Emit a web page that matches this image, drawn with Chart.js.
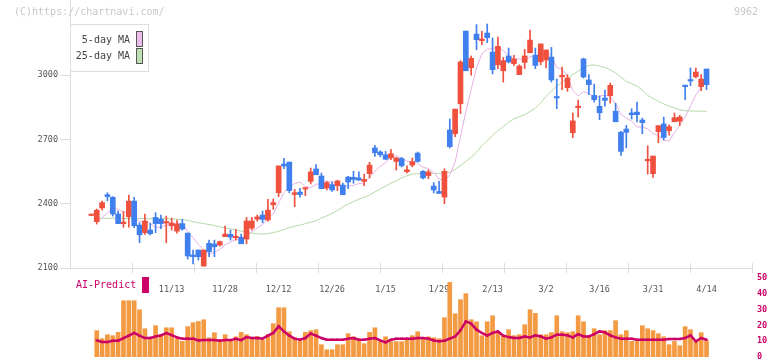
<!DOCTYPE html>
<html>
<head>
<meta charset="utf-8">
<script src="https://cdn.jsdelivr.net/npm/chart.js@4.4.0/dist/chart.umd.min.js"></script>
<style>
  body { margin: 0; background: #fff; }
  #wrap { position: relative; width: 772px; height: 361px; }
  #wrap canvas { position: absolute; left: 0; top: 0; }
</style>
</head>
<body>
<div id="wrap">
  <canvas id="priceChart" width="772" height="361"></canvas>
  <canvas id="volChart" width="772" height="361"></canvas>
</div>
<script>
// daily prices, index 0 = oldest day shown
let openP = [2345,2316,2380,2442,2430,2352,2307,2339,2412,2300, 2265,2277,2336,2328,2310,2297,2272,2307,2263,2161,
  2184,2109,2215,2212,2207,2246,2257,2241,2243,2235, 2286,2328,2347,2324,2395,2451,2585,2594,2443,2454,
  2468,2504,2562,2529,2473,2489,2484,2487,2524,2523, 2520,2504,2540,2660,2641,2628,2614,2597,2610,2549,
  2580,2636,2551,2531,2482,2457,2431,2744,2726,2866, 3205,3034,3191,3160,3196,3107,3048,3020,3089,3053,
  3002,3059,3104,3093,3062,3070,3084,2897,2992,2941, 2731,2848,3075,2977,2905,2854,2893,2904,2831,2733,
  2748,2823,2827,2790,2600,2540,2736,2772,2740,2782, 2785,2952,2977,2992,2946,3028];
let highP = [2347,2375,2412,2451,2433,2366,2363,2440,2430,2311, 2352,2308,2358,2347,2342,2333,2324,2327,2263,2184,
  2184,2184,2230,2230,2226,2296,2277,2280,2258,2336, 2336,2347,2366,2420,2422,2576,2611,2594,2467,2472,
  2476,2566,2582,2543,2504,2501,2509,2496,2527,2551, 2548,2538,2593,2672,2647,2644,2653,2616,2616,2577,
  2613,2641,2554,2558,2498,2504,2563,2795,2841,3067, 3205,3089,3235,3204,3238,3173,3177,3082,3126,3092,
  3048,3120,3210,3126,3145,3117,3129,2981,3037,3002, 2823,2883,3079,3002,2958,2902,2930,2963,2868,2737,
  2765,2843,2874,2799,2670,2622,2764,2804,2768,2823, 2812,2952,3033,3033,3002,3028];
let lowP = [2345,2305,2370,2414,2342,2307,2290,2290,2288,2218, 2257,2254,2265,2283,2218,2277,2263,2276,2142,2119,
  2137,2109,2153,2153,2202,2246,2230,2230,2213,2213, 2277,2319,2311,2319,2374,2433,2563,2451,2386,2430,
  2437,2492,2535,2470,2464,2457,2461,2442,2470,2495, 2510,2484,2520,2621,2619,2607,2605,2557,2571,2543,
  2572,2594,2516,2516,2450,2448,2400,2660,2712,2820, 3020,2999,3118,3142,3151,3005,3030,2967,3056,3044,
  3002,3030,3104,3030,3048,3033,2967,2843,2932,2924, 2708,2804,2986,2908,2874,2792,2855,2869,2782,2625,
  2660,2795,2781,2726,2538,2523,2684,2698,2719,2782, 2764,2885,2950,2986,2927,2932];
let closeP = [2347,2370,2405,2433,2352,2307,2310,2412,2297,2255, 2319,2260,2307,2307,2314,2310,2305,2282,2156,2153,
  2153,2184,2176,2199,2223,2258,2244,2244,2213,2319, 2319,2338,2327,2370,2405,2576,2576,2461,2451,2443,
  2473,2548,2535,2470,2498,2464,2506,2442,2501,2513, 2510,2513,2580,2638,2628,2607,2633,2613,2577,2558,
  2596,2597,2520,2548,2464,2448,2551,2666,2841,3061, 3020,3078,3165,3168,3174,3025,3134,3067,3061,3075,
  3042,3089,3163,3045,3145,3117,2977,2893,2997,2986, 2786,2855,2991,2955,2885,2824,2882,2952,2782,2644,
  2733,2815,2815,2778,2604,2622,2764,2709,2759,2801, 2804,2946,2972,3014,2981,2955];

let ma5 = [null,2316,2334,2356,2381,2373,2361,2363,2336,2316, 2319,2309,2288,2290,2301,2300,2309,2304,2273,2241,
  2210,2186,2164,2173,2187,2208,2220,2234,2236,2256, 2268,2287,2303,2335,2352,2403,2451,2478,2494,2501,
  2481,2475,2490,2494,2505,2503,2495,2476,2482,2485, 2494,2496,2523,2551,2574,2593,2617,2624,2612,2598,
  2595,2588,2570,2564,2545,2515,2506,2535,2594,2713, 2828,2933,3033,3098,3121,3122,3133,3114,3092,3072,
  3076,3067,3086,3083,3097,3112,3089,3035,3026,2994, 2928,2903,2923,2915,2894,2902,2907,2900,2865,2817,
  2799,2785,2758,2757,2749,2727,2717,2695,2692,2731, 2767,2804,2856,2907,2943,2974];
let ma25 = [null,2332,2332,2332,2332,2332,2331,2331,2331,2331, 2331,2330,2330,2330,2330,2329,2328,2326,2322,2316,
  2311,2307,2303,2298,2292,2287,2282,2278,2272,2266, 2262,2260,2258,2260,2265,2271,2280,2288,2295,2300,
  2307,2314,2320,2333,2343,2355,2368,2385,2398,2410, 2421,2430,2440,2455,2468,2482,2496,2506,2520,2530,
  2538,2540,2540,2540,2541,2542,2544,2547,2560,2578, 2597,2617,2640,2670,2695,2718,2740,2760,2780,2795,
  2806,2815,2830,2845,2870,2900,2925,2948,2965,2985, 3002,3018,3035,3045,3047,3042,3035,3025,3010,2990,
  2970,2960,2948,2930,2905,2890,2878,2865,2855,2847, 2838,2834,2832,2832,2831,2831];

let volume = [null,16.7,11.6,14.1,13.5,15.6,35.6,35.6,35.6,29.9, 17.9,11.6,19.8,14.1,18.5,18.5,11.6,9.9,19.2,21.7,
  22.5,23.6,12.2,15.4,10.9,14.1,10.9,12.8,15.6,14.1, 12.2,13.0,10.5,14.1,21.1,31.2,31.2,16.0,12.2,9.9,
  15.6,16.7,17.3,7.8,4.6,4.6,7.8,7.8,14.8,12.8, 10.9,8.4,15.6,18.5,9.7,12.8,9.7,9.7,9.7,11.6,
  13.5,16.0,12.2,12.8,12.2,11.6,24.9,47.2,27.4,36.3, 40.1,23.6,22.3,13.5,22.3,26.1,16.0,13.5,17.3,13.5,
  14.1,20.4,29.9,27.6,14.1,14.1,15.4,26.1,16.0,15.4, 16.0,26.1,22.3,12.8,17.9,14.1,16.7,16.7,23.0,14.1,
  16.7,9.9,9.9,19.8,17.9,16.7,14.8,12.8,7.8,9.9, 7.2,19.2,17.3,9.9,15.4,10.3];
let aiPredict = [null,10.5,9.5,9.5,10.3,10.3,12.0,13.5,15.2,13.5, 12.0,12.0,13.0,13.7,15.2,13.9,12.4,11.6,11.6,11.6,
  10.5,10.7,10.7,10.7,10.3,10.7,10.7,11.6,10.7,12.6, 12.0,12.0,11.6,13.5,15.2,19.4,16.2,13.5,11.6,10.9,
  12.0,14.8,13.5,12.0,10.9,10.9,10.9,10.9,11.6,12.0, 10.9,10.9,11.6,12.0,10.5,9.3,10.9,11.6,11.6,11.6,
  11.6,12.0,12.0,11.6,10.5,9.9,10.3,11.6,13.0,16.9, 22.5,21.1,17.3,15.2,13.5,15.2,16.2,13.5,12.6,12.0,
  12.0,13.0,12.4,13.7,13.0,11.6,12.4,14.1,14.1,13.7, 12.4,14.5,13.0,13.0,14.5,16.2,15.6,13.7,12.4,11.6,
  11.6,11.6,10.9,10.9,10.9,10.9,10.9,10.9,11.4,11.4, 11.4,12.0,13.7,9.9,12.0,10.9];

let tickIdx = [15, 25, 35, 45, 55, 65, 75, 85, 95, 105, 115];
let tickLabels = ['11/13','11/28','12/12','12/26','1/15','1/29','2/13','3/2','3/16','3/31','4/14'];
let priceTicks = [2100, 2400, 2700, 3000];

const upColor = '#f0503e';
const downColor = '#3f7fee';
const xMin = -4, xMax = 123.5;

Chart.defaults.font.family = '"DejaVu Sans Mono", monospace';
Chart.defaults.animation = false;

let candleColors = closeP.map((c, i) => c >= openP[i] ? upColor : downColor);
let pts = (arr) => arr.map((v, i) => ({ x: i, y: v }));

// texts and small marks that sit around the plot
const decorations = {
  id: 'decorations',
  afterDraw(chart) {
    const ctx = chart.ctx;
    const a = chart.chartArea;
    ctx.save();

    // short marks crossing the base line
    ctx.strokeStyle = '#dddddd';
    ctx.lineWidth = 1;
    for (let i = 1; i <= 11; i++) {
      let x = Math.round(a.left + i * (a.right - a.left) / 11) + 0.5;
      ctx.beginPath();
      ctx.moveTo(x, a.bottom - 5);
      ctx.lineTo(x, a.bottom + 5);
      ctx.stroke();
    }

    ctx.font = '10px "DejaVu Sans Mono"';
    ctx.textBaseline = 'middle';
    ctx.fillStyle = '#c8c8c8';
    ctx.textAlign = 'left';
    ctx.fillText('(C)https://chartnavi.com/', 14, 12);
    ctx.textAlign = 'right';
    ctx.fillText('9962', 758, 12);

    // MA legend
    ctx.fillStyle = '#ffffff';
    ctx.fillRect(70.5, 24.5, 78, 47);
    ctx.strokeStyle = '#dddddd';
    ctx.strokeRect(70.5, 24.5, 78, 47);
    ctx.fillStyle = '#444444';
    ctx.fillText('5-day MA', 130, 40);
    ctx.fillText('25-day MA', 130, 56);
    ctx.fillStyle = '#ecbcec';
    ctx.fillRect(136.5, 31.5, 6, 15);
    ctx.fillStyle = '#c0e0b4';
    ctx.fillRect(136.5, 48.5, 6, 15);
    ctx.strokeStyle = '#555555';
    ctx.strokeRect(136.5, 31.5, 6, 15);
    ctx.strokeRect(136.5, 48.5, 6, 15);

    // volume panel title
    ctx.textAlign = 'left';
    ctx.fillStyle = '#cc0066';
    ctx.fillText('AI-Predict', 76, 285);
    ctx.fillRect(142, 277, 7, 16);

    ctx.restore();
  }
};

const priceChart = new Chart(document.getElementById('priceChart'), {
  type: 'bar',
  data: {
    datasets: [
      {
        label: 'body',
        data: closeP.map((c, i) => ({ x: i, y: [openP[i], c] })),
        backgroundColor: candleColors,
        barThickness: 5,
        minBarLength: 1.5,
        grouped: false,
        order: 0
      },
      {
        label: 'wick',
        data: highP.map((h, i) => ({ x: i, y: [lowP[i], h] })),
        backgroundColor: candleColors,
        barThickness: 1,
        grouped: false,
        order: 1
      },
      {
        type: 'line',
        label: '5-day MA',
        data: pts(ma5),
        borderColor: '#e6b0e6',
        borderWidth: 1,
        pointRadius: 0,
        order: 2
      },
      {
        type: 'line',
        label: '25-day MA',
        data: pts(ma25),
        borderColor: '#b3d9a6',
        borderWidth: 1,
        pointRadius: 0,
        order: 3
      }
    ]
  },
  options: {
    responsive: false,
    layout: { padding: { left: 0, right: 20, top: 0, bottom: 0 } },
    plugins: { legend: { display: false }, tooltip: { enabled: false } },
    scales: {
      x: {
        type: 'linear',
        min: xMin,
        max: xMax,
        offset: false,
        grid: { display: false },
        border: { display: true, color: '#dddddd', width: 1 },
        afterBuildTicks: (scale) => { scale.ticks = tickIdx.map(v => ({ value: v })); },
        afterFit: (scale) => { scale.height = 93; scale.paddingLeft = 0; scale.paddingRight = 0; },
        ticks: {
          autoSkip: false,
          maxRotation: 0,
          padding: 9,
          color: '#555555',
          font: { size: 8.5 },
          callback: (v) => tickLabels[tickIdx.indexOf(v)]
        }
      },
      y: {
        min: 2100,
        max: 3350,
        beginAtZero: false,
        grid: { drawOnChartArea: false, tickLength: 10, color: '#dddddd' },
        border: { display: true, color: '#dddddd' },
        afterBuildTicks: (scale) => { scale.ticks = priceTicks.map(v => ({ value: v })); },
        afterFit: (scale) => { scale.width = 70; scale.paddingTop = 0; scale.paddingBottom = 0; },
        ticks: { padding: 2, color: '#555555', font: { size: 8.5 }, callback: (v) => String(v) }
      }
    }
  },
  plugins: [decorations]
});

const volChart = new Chart(document.getElementById('volChart'), {
  type: 'bar',
  data: {
    datasets: [
      {
        type: 'line',
        label: 'AI-Predict',
        data: pts(aiPredict),
        borderColor: '#cc0066',
        borderWidth: 2.5,
        pointStyle: 'rect',
        pointRadius: 1.6,
        pointBackgroundColor: '#cc0066',
        pointBorderWidth: 0,
        order: 0
      },
      {
        label: 'volume',
        data: pts(volume),
        backgroundColor: '#f39a42',
        barThickness: 4,
        order: 1
      }
    ]
  },
  options: {
    responsive: false,
    layout: { padding: { left: 70, right: 0, top: 278, bottom: 4 } },
    plugins: { legend: { display: false }, tooltip: { enabled: false } },
    scales: {
      x: { type: 'linear', min: xMin, max: xMax, offset: false, display: false },
      y: {
        position: 'right',
        min: 0,
        max: 50,
        beginAtZero: true,
        grid: { display: false, drawTicks: false, tickLength: 0 },
        border: { display: false },
        afterFit: (scale) => { scale.width = 20; scale.paddingTop = 0; scale.paddingBottom = 0; },
        ticks: { stepSize: 10, padding: 5, color: '#cc0066', font: { size: 8.5, weight: 'bold' } }
      }
    }
  }
});
</script>
</body>
</html>
